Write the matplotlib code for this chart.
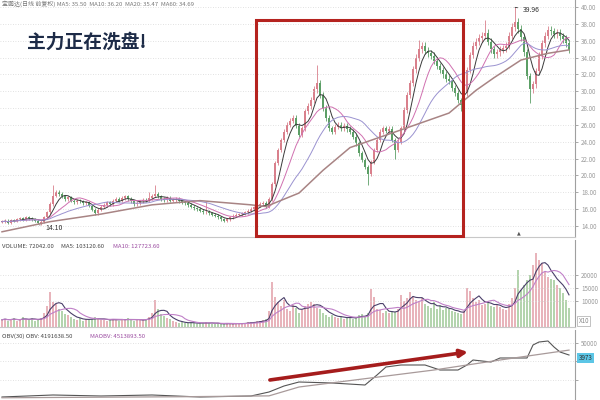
import numpy as np
import pandas as pd
import matplotlib
matplotlib.use("Agg")
import matplotlib.pyplot as plt
from matplotlib.patches import Rectangle

plt.rcParams['font.family'] = ['Noto Sans CJK SC', 'DejaVu Sans']

# daily closes (one bar every 3 px)
close = [14.5, 14.6, 14.4, 14.7, 14.6, 14.8, 14.9, 14.7, 15.0, 14.9,
         14.8, 14.6, 14.4, 14.5, 15.0, 15.6, 16.6, 17.6, 18.0, 17.8,
         17.5, 17.2, 17.4, 17.0, 16.8, 17.0, 16.9, 16.7, 16.8, 16.4,
         15.9, 15.5, 15.9, 16.3, 16.5, 16.8, 16.6, 17.0, 17.2, 17.0,
         17.3, 17.5, 17.2, 16.9, 16.6, 16.7, 16.9, 17.1, 17.0, 17.3,
         17.6, 17.8, 17.5, 17.2, 17.1, 17.3, 17.0, 17.1, 17.2, 16.9,
         16.8, 16.7, 16.5, 16.3, 16.1, 16.0, 15.8, 15.6, 15.7, 15.5,
         15.3, 15.2, 15.0, 14.8, 14.6, 14.8, 15.0, 15.2, 15.3, 15.4,
         15.5, 15.6, 15.8, 16.0, 16.2, 16.4, 16.6, 16.7, 16.3, 17.2,
         19.0, 21.5, 23.0, 24.2, 25.2, 26.0, 26.5, 26.8, 25.9, 24.8,
         25.6, 27.6, 28.2, 29.0, 30.2, 31.0, 29.5, 28.0, 26.8, 25.6,
         25.2, 25.8, 26.0, 25.6, 25.9, 25.5, 25.2, 24.6, 23.8, 22.6,
         21.8, 21.0, 20.2, 21.6, 23.0, 24.2, 25.2, 25.6, 25.3, 25.5,
         24.2, 23.0, 24.0, 25.6, 27.8, 29.6, 31.0, 32.6, 34.0, 35.0,
         35.4, 34.8, 34.5, 34.2, 33.6, 33.0, 32.5, 32.0, 31.5, 31.2,
         30.4, 29.8, 28.9, 28.4, 29.8, 32.5, 34.3, 35.4, 35.9, 36.3,
         36.6, 36.9, 35.9, 35.0, 34.4, 34.6, 34.9, 35.1, 35.4, 36.6,
         37.6, 38.2, 37.4, 36.4, 34.6, 31.8, 30.2, 30.8, 32.4, 34.2,
         35.7, 36.6, 37.3, 37.1, 36.8, 36.9, 36.5, 36.2, 35.7, 34.9]

# volume in thousands of shares
volume_k = [28, 32, 25, 30, 35, 22, 28, 40, 30, 26, 33, 24, 30, 36,
            55, 80, 135, 95, 88, 70, 62, 50, 45,
            38, 30, 28, 35, 25, 30, 28, 32, 40, 30, 26, 28, 24, 30,
            32, 27, 25, 30, 28, 35, 26, 24, 28, 30, 26, 32, 40, 55,
            104, 70, 50, 42, 35, 30,
            22, 18, 15, 20, 16, 14, 18, 15, 12, 16, 14, 20, 15, 13, 12,
            14, 10, 12, 15, 13, 11, 14, 12, 16, 15, 18, 20, 17, 22,
            25, 28, 30, 60, 173, 115,
            95, 80, 104, 70, 60, 85, 75, 55, 65,
            80, 90, 96, 88, 75, 70,
            55, 48, 40, 45, 38, 35, 42, 30, 36, 40, 32, 38, 45, 50, 42, 55,
            146, 115, 70, 65, 55, 60, 54, 62, 58, 70,
            123, 100, 110, 135, 120, 105, 95, 110,
            90, 80, 75, 95, 70, 85, 65, 72, 68, 60, 58,
            54, 50, 62, 150, 140, 110,
            95, 104, 85, 90, 100, 80, 78, 85, 77, 70, 65,
            90, 110, 150, 220, 142, 160, 180, 200, 240, 285, 258, 246,
            210, 192, 185, 180, 162, 150, 131, 104, 72]

# shadows that stand out in the picture (bar index -> price)
marked_highs = {17: 18.8, 49: 18.0, 51: 18.8, 68: 16.9, 105: 33.1,
                139: 36.1, 161: 38.5, 171: 39.96}
marked_lows = {13: 14.1, 122: 18.9, 131: 22.0, 153: 27.6, 176: 28.6}

# long moving average, read at a few bars
ma60_idx = [0, 16, 33, 50, 66, 83, 88, 99, 107, 116, 133, 149, 158, 164, 173, 182, 189]
ma60_val = [13.3, 14.5, 15.4, 16.5, 17.0, 16.5, 16.3, 17.9, 20.6, 23.3,
            25.4, 27.4, 30.1, 31.6, 33.7, 34.5, 34.9]

# OBV / MAOBV, read at a few bars (thousands)
obv_idx = [0, 17, 33, 50, 66, 83, 89, 94, 99, 110, 121, 125, 128, 133, 141,
           146, 152, 155, 157, 163, 166, 175, 177, 179, 182, 184, 186, 189]
obv_k = [1303, 1440, 1371, 1440, 1303, 1371, 1645, 2056, 2330, 2262, 2124,
         2809, 3357, 3494, 3494, 3151, 3151, 3494, 3836, 3699, 3973, 3973,
         4863, 5068, 5137, 4726, 4384, 4178]
maobv_idx = [0, 60, 89, 99, 144, 166, 189]
maobv_k = [1250, 1320, 1380, 1987, 3151, 3836, 4514]

price_ticks = list(range(14, 41, 2))
vol_ticks = [100000, 150000, 200000]   # shown /10, see the X10 box
obv_ticks = [2500000, 3750000, 5000000]

n = len(close)
assert len(volume_k) == n
x = np.arange(n)
c = np.array(close)
o = np.r_[c[0], c[:-1]]
hi = np.maximum(o, c) * 1.012
lo = np.minimum(o, c) * 0.988
for k, v in marked_highs.items():
    hi[k] = v
for k, v in marked_lows.items():
    lo[k] = v
up = c >= o
vol = np.array(volume_k) * 1000.0

s = pd.Series(c)
ma5 = s.rolling(5, min_periods=1).mean()
ma10 = s.rolling(10, min_periods=1).mean()
ma20 = s.rolling(20, min_periods=1).mean()
v = pd.Series(vol)
vma5 = v.rolling(5, min_periods=1).mean()
vma10 = v.rolling(10, min_periods=1).mean()

fig = plt.figure(figsize=(6, 4), dpi=100)
W, H = 600.0, 400.0


def panel(top, bottom):
    return fig.add_axes([0, (H - bottom) / H, 575 / W, (bottom - top) / H])


ax_p = panel(0, 237)
ax_v = panel(240, 327)
ax_o = panel(330, 400)

xlim = (-0.67, 191)
for ax in (ax_p, ax_v, ax_o):
    ax.set_xlim(*xlim)
    ax.set_xticks([])
    ax.yaxis.tick_right()
    ax.tick_params(axis='y', labelsize=4.5, colors='#9a9a9a', length=2.5,
                   pad=2, width=0.6)
    ax.spines['top'].set_visible(False)
    ax.spines['left'].set_visible(False)
    ax.spines['right'].set_color('#a0a0a0')
    ax.spines['right'].set_linewidth(0.8)
    ax.spines['bottom'].set_color('#c8c8c8')
    ax.spines['bottom'].set_linewidth(0.8)
    ax.grid(axis='y', color='#d8d8d8', lw=0.6, ls=(0, (1, 2)))
ax_o.spines['bottom'].set_visible(False)

up_col, dn_col = '#d9808c', '#5c9f66'
cols = np.where(up, up_col, dn_col)

# price panel
ax_p.vlines(x, lo, hi, colors=cols, lw=0.6)
ax_p.bar(x, np.maximum(np.abs(c - o), 0.06), bottom=np.minimum(o, c),
         width=0.65, color=cols, lw=0)
ax_p.plot(x, ma5, color='#3a3a3a', lw=0.7)
ax_p.plot(x, ma10, color='#d070b0', lw=0.7)
ax_p.plot(x, ma20, color='#9a92d0', lw=0.7)
ax_p.plot(ma60_idx, ma60_val, color='#a88484', lw=1.1)
ax_p.set_ylim(12.68, 40.83)
ax_p.set_yticks(price_ticks)
ax_p.set_yticklabels([f"{t:.2f}" for t in price_ticks])

ax_p.annotate('14.10', xy=(12.6, 14.1), xytext=(14.5, 13.75), fontsize=5,
              color='#333', va='center',
              arrowprops=dict(arrowstyle='-', color='#333', lw=0.6))
ax_p.annotate('39.96', xy=(171, 39.96), xytext=(173.7, 39.64), fontsize=5,
              color='#333', va='center',
              arrowprops=dict(arrowstyle='-', color='#333', lw=0.6))
ax_p.text(172.3, 13.0, '▲', fontsize=3.5, color='#555', ha='center',
          family='DejaVu Sans')

# red box around the shake-out range
box_x0, box_x1 = 84.7, 153.7
box_y0, box_y1 = 12.8, 38.46
ax_p.add_patch(Rectangle((box_x0, box_y0), box_x1 - box_x0, box_y1 - box_y0,
                         fill=False, edgecolor='#b5231f', lw=2.2,
                         clip_on=False, zorder=5))

fig.text(27 / W, 1 - 42 / H, '主力正在洗盘!', fontsize=13.5, fontweight='bold',
         color='#1d2b47', va='center')
fig.text(2 / W, 1 - 4 / H,
         '宝鹏达(日线 前复权) MA5: 35.50  MA10: 36.20  MA20: 35.47  MA60: 34.69',
         fontsize=4.3, color='#777', va='center')

# volume panel
ax_v.bar(x, vol, width=0.7, color=np.where(up, '#e8b4bb', '#b4d4ae'), lw=0)
ax_v.plot(x, vma5, color='#4a3f6a', lw=0.8)
ax_v.plot(x, vma10, color='#c080c8', lw=0.8)
ax_v.set_ylim(0, 335000)
ax_v.set_yticks(vol_ticks)
ax_v.set_yticklabels([str(t // 10) for t in vol_ticks])
ax_v.text(192.2, 8000, 'X10', fontsize=4.5, color='#888', va='bottom',
          clip_on=False,
          bbox=dict(boxstyle='square,pad=0.2', fc='white', ec='#aaa', lw=0.5))
fig.text(2 / W, 1 - 246 / H, 'VOLUME: 72042.00', fontsize=4.3, color='#444',
         va='center')
fig.text(61 / W, 1 - 246 / H, 'MA5: 103120.60', fontsize=4.3, color='#444',
         va='center')
fig.text(113 / W, 1 - 246 / H, 'MA10: 127723.60', fontsize=4.3, color='#9a4aa0',
         va='center')

# OBV panel
ax_o.plot(obv_idx, np.array(obv_k) * 1000, color='#555555', lw=0.8)
ax_o.plot(maobv_idx, np.array(maobv_k) * 1000, color='#a89a9a', lw=0.9)
ax_o.set_ylim(1097000, 5890000)
ax_o.set_yticks(obv_ticks)
ax_o.set_yticklabels(['', '', '50000'])
ax_o.text(192.2, 3973000, '3973', fontsize=4.5, color='#333', va='center',
          clip_on=False,
          bbox=dict(boxstyle='square,pad=0.2', fc='#5cc6e6', ec='none'))
ax_o.annotate('', xy=(155.3, 4384000), xytext=(89.3, 2467000),
              arrowprops=dict(arrowstyle='-|>', color='#a51c1c', lw=2.6,
                              mutation_scale=11, shrinkA=0, shrinkB=0))
fig.text(2 / W, 1 - 336 / H, 'OBV(30) OBV: 4191638.50', fontsize=4.3,
         color='#444', va='center')
fig.text(90 / W, 1 - 336 / H, 'MAOBV: 4513893.50', fontsize=4.3,
         color='#9a4aa0', va='center')

fig.savefig('out.png', dpi=100)
